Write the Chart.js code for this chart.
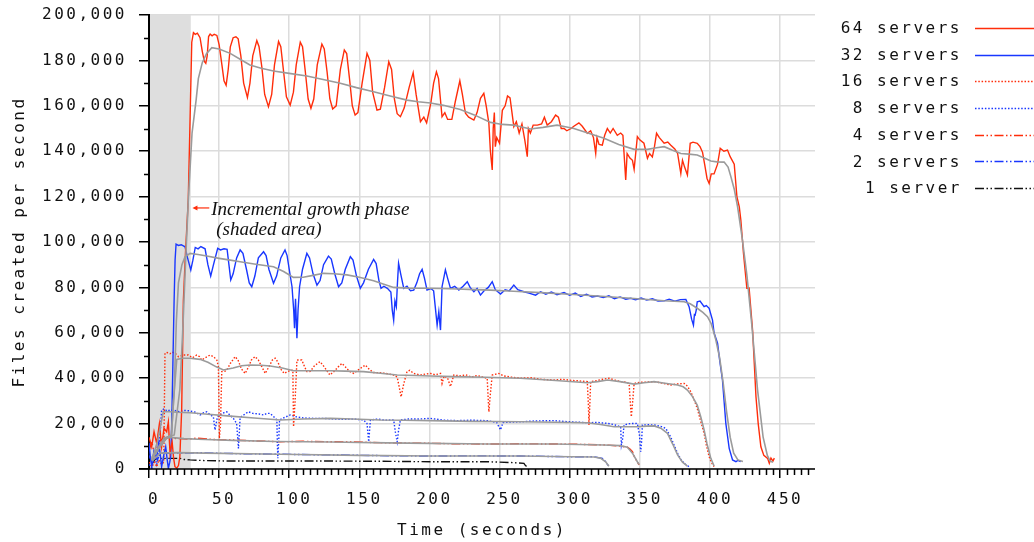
<!DOCTYPE html>
<html>
<head>
<meta charset="utf-8">
<script src="https://cdn.jsdelivr.net/npm/chart.js@4.4.1/dist/chart.umd.min.js"></script>
<style>
  body { margin: 0; background: #fff; }
  #wrap { width: 1034px; height: 542px; }
</style>
</head>
<body>
<div id="wrap"><canvas id="chart"></canvas></div>
<script>
// [seconds, thousands of files/s]
const files64k = [[0,14],[1.9,9.8],[3.6,16.4],[5.5,11.3],[7.4,19.8],[9,9.8],[10.7,17.9],[12.6,16.4],[13.8,20.8],[15,6.9],[16.5,12],[17.5,5],[18.5,1],[19.8,0.4],[21,1.5],[22,5.4],[23.3,26],[24.5,74],[26,95],[28,118.5],[29.5,160],[30.5,188],[31.7,192.2],[33,191.5],[34.5,192],[36.4,190],[38,184],[39.5,179.5],[40.5,178.7],[41.5,182],[42.5,190.5],[43.6,191.6],[45,190.8],[46.5,191.5],[48.4,191],[50,187],[52,178],[53.5,171],[55,169],[56.5,176],[58,186],[60,190],[62,190.4],[63.6,189.5],[65.5,182],[67.5,170],[70.2,163.7],[72,170],[74,182],[76.9,188.7],[78.5,186],[80.5,177],[82.5,165],[85.2,159.6],[87.5,165],[89.5,178],[92.4,188.3],[94,186],[96,175],[98,164],[100.7,160.3],[103,166],[105,178],[107.9,188],[109.5,186],[111.5,175],[113.5,163],[115.5,158.9],[117.5,163],[120,178],[123.3,187.2],[125,185],[127,175],[129,163],[131,158.6],[133.5,160],[136.5,176],[139.3,184.6],[141,183],[143,172],[145,160],[147,155.9],[149,157],[152,170],[155.5,183.1],[157.5,180],[159.5,166],[162.6,158.1],[165,158.5],[168,168],[171,179.4],[173,176],[175,163],[177,156.5],[179.3,155.2],[182,159],[185.5,168],[188.4,174.6],[190.5,165],[193.6,153],[196,155],[198,152.5],[201,161.2],[203,170],[205,175],[206.5,172],[209,155.2],[211,157],[213,154],[216,154],[218.5,162],[221.7,171],[223.5,165],[225.7,156.7],[228,155],[231.7,153.7],[234,157],[236.4,163.3],[238.8,165.5],[240.5,160],[242.4,152.3],[243.5,140],[244.8,131.7],[245.5,150],[246.3,157],[247,142],[248,146],[250,143.5],[252,158],[254,160],[255.7,164.3],[257.5,163.5],[260.2,150.8],[262,153],[264,148],[266,152],[268,145],[269.8,137.6],[270.6,150],[272,148],[274,151.5],[277,151.5],[280,152],[282,155],[284,151.5],[287,153],[290,155.9],[292,155],[294,150],[296,150],[298,149],[301,150],[303,151],[306.6,152.5],[309,151],[312.6,147.9],[315,149],[317,146],[318.6,139],[319.5,146],[321,143],[323.3,142.7],[325,147],[326.9,150],[329,148],[331,150],[334,147],[336.4,148],[338,147],[340,127.3],[341,139],[343,137],[344.8,136],[346,132],[348.3,146.4],[350,145],[353,143.5],[355.5,136.9],[357,139],[359,137.5],[360.5,142],[362,147.9],[364,146],[367.4,143.5],[370,144],[372,142.7],[375,141],[377,139],[379.3,130.2],[380.5,136],[382,133],[384,129.5],[386,143.5],[388,144],[391,143.5],[393,142],[394.8,139.5],[396.4,133.9],[398,128],[399.5,125.8],[401,130],[403,130],[405.5,134.3],[407.4,141.3],[410,140],[412.6,140.5],[414.5,137.6],[417.4,134.3],[419.3,120],[421,115.5],[422.1,109.7],[424,95],[426.4,79.6],[428,79.7],[430.5,61],[432.9,31.8],[434.5,20],[436.4,9.8],[438.5,6],[441.2,4.7],[442.4,2.5],[443.6,4.8],[445,3.5],[446,4.8]];
const trend64k = [[2,5],[8,10],[13,14],[18,15],[22,35],[24,60],[26,90],[28,118],[30.7,148],[33.6,162.5],[35.2,172],[38,179],[41,183],[44.8,185.6],[50,185],[57.9,183.1],[65,180.5],[72,178],[80,176.5],[88.8,175.3],[100,174.3],[112.6,173.1],[125,171.5],[136.4,169.9],[148,168],[160.2,166.2],[172,164.3],[184,162.5],[192,161.8],[200.7,161.2],[210,160.2],[222,158.4],[232,156],[243.6,152.7],[252,151.8],[260,151.5],[266,150.7],[272,149.8],[281,150.5],[291,151.5],[297,150.8],[303,150],[313,148],[324.5,145.7],[335,143],[346,140.8],[355.5,140.8],[362,141.5],[367.4,142],[373,140.5],[379.3,139],[385,138.7],[391,138.3],[396,137],[400.7,135.7],[405,135.3],[410.2,135.2],[413,133],[415,128.8],[417.5,123],[419.8,115.5],[423,102],[426.5,85],[430,63],[434,35],[438,14],[441,6],[443,3.5],[445,3]];

const files32k = [[0,11.5],[1,5],[2,1],[3.5,8],[5.5,5],[7,12],[9,1],[10.5,6],[11.9,9.8],[13,4],[13.8,0.3],[14.8,3],[15.5,5.4],[16.2,20],[17,45],[17.9,74],[18.6,92],[19.3,99.1],[21,98.5],[23,98.8],[25.7,97.9],[27.5,93],[29.8,87.7],[31.3,92],[33,97.6],[35,97],[37,98],[40,97],[42,90],[44,85],[46,90],[49,97.2],[51,96.5],[53.5,97],[55.7,96.8],[57,90],[58.3,83.3],[60,86],[62.5,93],[65,96.5],[67,95],[69.5,88],[71.5,82],[73.3,80.3],[75.5,85],[78,93],[81.7,95.7],[83.5,94],[85.5,88],[88.8,81.8],[91,85],[94,93],[97,96.5],[98.5,94],[100,88],[102,80.3],[103.2,70],[103.8,62],[104.5,75],[105.5,57.6],[106.3,70],[107.4,80.3],[109.5,88],[112.6,95],[114.5,93],[117,86],[119.8,81],[122,83],[124.5,90],[128,93.8],[130,92.5],[132.5,86],[135.2,80.3],[137.5,82],[140,88],[143.6,93.5],[145.5,92],[148,85],[150.7,79.6],[153,82],[156.5,88],[160.2,92.3],[162,90.5],[164,83],[165.5,79.6],[167.5,80.5],[170,79.6],[172.5,78],[173.5,70],[174.5,65.6],[175.4,74],[176.4,71.5],[177.2,82],[178,90.6],[179.5,86],[181.7,79.6],[184,80.5],[186.5,78.5],[188.8,78.8],[191,82],[193,86],[194.8,88],[196.5,84],[198.3,78.8],[201,79.5],[203,78.5],[205.5,63.4],[206.7,69.3],[207.9,61.2],[209,80.3],[211.4,87.7],[213,84],[215,79.6],[218,80.5],[221,78.8],[224,80.5],[227,82.5],[229,80],[231.7,78.1],[234,79.5],[236.4,76.6],[239,78.5],[242,80],[244.8,82.5],[247,79],[250.7,77.1],[254,79],[257,78.5],[260.2,81],[263,79],[267.4,78.1],[271,77.5],[275.7,76.6],[279.3,78.1],[283,77],[287,78],[291,76.8],[296,77.7],[300,76.5],[304,77.5],[308,76],[312,77],[316,75.8],[319.8,76.2],[324,75.5],[328,76.3],[332,75],[336,75.8],[340,74.8],[343.6,75.2],[347,74.5],[351,75.3],[355,74.4],[359,75],[363,74],[367.4,74.1],[371,74.8],[375,73.9],[379,74.6],[382.9,74.7],[385.2,71.5],[387,66],[388.3,63.4],[389,68],[389.5,67.8],[390.3,70],[391,73.7],[393,74],[395.9,71.5],[397.5,72],[399.5,70.8],[401.9,65.6],[403,60],[405.5,55.4],[407,48],[409,39.2],[411.4,20.1],[413.8,9.1],[416.2,4],[418.6,3.2],[420,3.8],[422,3.2]];
const trend32k = [[2,5],[8,10],[13,14],[16,15],[18,35],[19.5,65],[21,82],[23.5,90],[25.7,93.5],[29.3,95],[35,94.5],[41.2,93.8],[50,92.8],[58,92],[65,91.3],[75,90.3],[88.8,89.1],[96,87],[103,84.4],[110,84.5],[117,85.3],[124.5,86.2],[132,86],[141.2,85.5],[150,84.5],[160.2,82.9],[167,81.5],[174.5,80],[185,79.7],[196,79.6],[208,79.5],[219.8,79.3],[232,79],[243.6,78.8],[260,78.3],[279.3,77.7],[300,77],[319.8,76.2],[343.6,75.2],[367.4,74.1],[381.7,73.7],[386,72.8],[391,70.8],[395,69],[398.3,67.1],[401,64],[403,59.8],[404.3,56.8],[407,49],[409.5,38],[412,25],[414.5,14],[417,7],[420,4],[423.6,3.3]];

const files16k = [[0,3],[2,1],[4,3],[5.5,1],[7,4],[9,2],[10.5,3],[11.4,51],[13,51.3],[15,50.8],[16.5,51.5],[18.6,51],[21,49.5],[24.5,50.2],[28,50.2],[31,49],[34,50.2],[36,49.5],[37.6,48],[40,49],[43.6,50.2],[46,49.5],[48.4,48],[49.5,45],[50.2,13.5],[51,20],[51.9,42.9],[54,43],[55.5,43.6],[58,46.5],[61.4,49.5],[63.5,48],[66,44],[68.6,42.1],[71,45],[73,48],[75.7,49.5],[78,48],[80.5,45],[82.9,42.1],[85.5,45],[88,48],[90,48.8],[92,47],[94,44],[96.4,42.1],[99,43],[102.6,43.6],[103.1,18.6],[104.2,30],[105.5,48],[109,48],[111,45],[112.6,42.9],[115,43],[118,45.5],[122,47.3],[125,45],[129,41.4],[132,43],[135,45],[137.6,46.5],[140,45],[143,43],[146,42.1],[150,44],[154.3,45.8],[157,44],[160,42.5],[165,42.4],[170,42],[174.5,41.4],[177,40.5],[178.5,36],[179.8,31.8],[181.5,37],[184,42.9],[186,43.5],[188.8,42.1],[193.6,41.4],[197,41.8],[200.7,42.1],[204,41.5],[207.9,42.1],[209,37.7],[210.5,41],[213,40],[215,36.3],[217.4,41.4],[222,41],[226,41.5],[230,40.5],[234,41.2],[238,40.5],[241.2,40],[242,30],[242.4,25.2],[243.3,32],[244.8,41.4],[249.5,42.1],[253,41],[258,40.5],[265,40],[272,40.2],[280,39.5],[288.8,39.2],[295,39.5],[302,39],[307,38.8],[312.6,38.5],[313.4,28],[313.8,19.4],[314.5,30],[315,38.5],[320,39],[324,39.6],[328,40],[332,39.2],[336.4,38.5],[340,38.2],[342.4,37.7],[343.2,30],[344,23],[345,30],[346,37.7],[350,38.2],[355,38.3],[360.2,38.5],[365,38],[372,37],[377,37.5],[381.7,37.7],[384,36.5],[386.4,34],[388.5,31],[391,26.7],[393.5,21],[395.9,15.7],[397.5,10.5],[399.5,5.4],[401,3],[403,1]];
const trend16k = [[2,4],[8,10],[13,14],[16,14.5],[17.5,30],[19.8,48.3],[24,48.8],[29.3,48.8],[36.4,48.3],[42,47],[48,45],[53.1,43.6],[60,44.5],[66,45.5],[72.1,45.8],[80,45.7],[86.4,45.4],[95,44.5],[103.1,43.3],[115,43.3],[129.3,43.3],[140,43.1],[153,42.9],[165,42.2],[177,41.4],[190,41.2],[200.7,41],[217.4,40.7],[240,40.4],[265,40],[290,39],[312.6,38],[320,38.5],[327,39.2],[336,38.5],[346,37.4],[353,38],[360.2,38.5],[368,37.8],[377,37],[381,36.2],[384,34.8],[387.5,32],[391,28.2],[393.5,23],[395.9,17.2],[398,11],[400.7,4.7],[403,1.3]];

const files8k = [[0,2],[2,0.5],[4,6],[5.5,2],[6.7,5],[8,16],[9,26],[11,26.5],[13,25.5],[15,26],[18,25.8],[22.1,25.2],[25,25.8],[29.3,25.6],[33,25],[36.4,23.8],[39,24.8],[41.2,25.2],[43.5,24],[45.9,23],[47.1,17.2],[48.8,23],[52,24.5],[55.5,25.2],[58,23.5],[60.2,22.3],[62.5,20],[63.8,9.1],[65,22.7],[68,24],[70.9,25.2],[74,24.5],[78,24.3],[81.7,23.8],[84,24.5],[86.4,24.5],[89,23],[91.2,21.6],[91.6,10],[91.9,4.7],[92.5,12],[93.1,21.6],[96,22.5],[100.7,23.8],[105,23],[110,22.5],[117.4,22.3],[125,22.3],[132,22],[138.8,21.9],[146,22],[153.1,21.6],[155.5,20],[156.7,12],[157.9,21.6],[163,22],[168,21.5],[174.5,21.6],[175.8,16],[177,12],[178,17],[179.3,21.6],[185,22],[192,22],[200.7,22.3],[210,21.5],[220,21.3],[230,21.5],[241.2,21.3],[248,20.5],[250.7,17.2],[252.5,20.5],[265,20.8],[277,21.2],[288.8,21.3],[300,20.8],[312.6,20.4],[320,20.5],[327,20.1],[332,19.5],[336.4,18.6],[336.9,10.6],[338,14],[338.8,19.4],[343,20],[348.3,20.1],[349.8,15],[350.7,7.6],[351.3,12],[351.9,19.4],[356,19.5],[360.2,19.4],[365,18.8],[368.6,17.9],[372,14.2],[374.5,10.5],[377,6.9],[379.5,4],[381.7,2.5],[385.2,1]];
const trend8k = [[2,4],[6,12],[10.2,25.2],[15,25.2],[20,25],[29.3,24.8],[40,24.2],[57.9,23.3],[75,22.5],[93.6,21.6],[110,22],[129.3,22.3],[145,22],[165,21.6],[182,21.5],[200.7,21.3],[230,21],[265,20.8],[290,20.6],[312.6,20.4],[322,19.6],[331.7,18.6],[340,18.6],[348.3,18.6],[355,18.9],[360.2,19],[365,18],[369.8,15.7],[373.5,11],[377,6.2],[380.5,3],[384,1.3]];

const files4k = [[0,8],[2,12],[4,6],[6,10],[8,12.5],[10,13.5],[14,13.8],[20,13.4],[28,13.2],[34,13.6],[45,13],[58,12.8],[75,12.4],[93.6,12],[110,12.2],[129.3,12],[145,11.9],[165,11.6],[185,11.4],[200.7,11.3],[220,11.1],[241.2,11],[265,11.1],[288.8,11],[305,10.9],[324.5,10.6],[335,10.2],[341.2,9.6],[343,8.8],[344.8,7.6],[346.5,5],[348.3,3.2],[349.5,1.8]];
const trend4k = [[2,4],[6,9],[11,13.8],[17,13.8],[25,13.4],[40,13],[60,12.6],[90,12.1],[130,11.9],[170,11.5],[200.7,11.3],[241,11],[289,11],[324.5,10.6],[336,10.3],[341.2,9.6],[344.8,7],[348.3,3.2],[349.5,2]];

const files2k = [[0,6],[2,3],[4,7.5],[6,4],[8,7],[10,6.9],[20,7],[34,7.2],[50,6.9],[70,6.7],[93.6,6.5],[130,6.2],[165,5.9],[200.7,5.7],[230,5.8],[265,5.7],[300.7,5.4],[317.4,5.4],[323.3,4.7],[325.7,3.2],[328,1]];
const trend2k = [[2,3.5],[8,7],[20,7.2],[40,7],[93.6,6.5],[150,6],[200.7,5.7],[265,5.7],[300.7,5.4],[317.4,5.3],[322,4.8],[325.7,3.2],[328,1.2]];

const files1k = [[2,2],[4,4],[5.5,4.7],[10.2,4.7],[22,4.7],[25,4.2],[29.3,4],[40,3.7],[58,3.5],[100,3.5],[129,3.5],[165,3.4],[200.7,3.2],[241.2,3.2],[260.2,2.8],[267.4,2.5],[268.5,1.5],[269.8,1]];

const seriesLabels = ['64 servers', '32 servers', '16 servers', '8 servers', '4 servers', '2 servers', '1 server'];
const growthPhaseEnd = 29.8;
const xTicks = [0, 50, 100, 150, 200, 250, 300, 350, 400, 450];

const RED = 'rgb(255,45,10)';
const BLUE = 'rgb(25,55,255)';
const GRAY = 'rgb(155,155,155)';
const DOT = [1.5, 1.8];
const DASHDOTDOT = [9, 2.5, 1.5, 2.5, 1.5, 2.5];
const MONO = "'DejaVu Sans Mono', monospace";

const styles = [
    { color: RED, dash: [] },
    { color: BLUE, dash: [] },
    { color: RED, dash: DOT },
    { color: BLUE, dash: DOT },
    { color: RED, dash: DASHDOTDOT },
    { color: BLUE, dash: DASHDOTDOT },
    { color: '#111', dash: DASHDOTDOT }
];

function toPoints(pairs) {
    return pairs.map(p => ({ x: p[0], y: p[1] * 1000 }));
}

function lineSet(label, pairs, color, dash, width, order) {
    return {
        label: label,
        data: toPoints(pairs),
        borderColor: color,
        borderDash: dash,
        borderWidth: width,
        pointRadius: 0,
        tension: 0,
        fill: false,
        order: order
    };
}

const measured = [files64k, files32k, files16k, files8k, files4k, files2k, files1k];
const trends = [trend64k, trend32k, trend16k, trend8k, trend4k, trend2k];

const datasets = [];
trends.forEach((t, i) => datasets.push(lineSet('trend ' + seriesLabels[i], t, GRAY, [], 1.6, 0)));
measured.forEach((m, i) => datasets.push(lineSet(seriesLabels[i], m, styles[i].color, styles[i].dash, 1.4, 1)));

const spacing = {
    id: 'spacing',
    beforeUpdate(chart) { chart.ctx.letterSpacing = '2.5px'; },
    beforeDraw(chart) { chart.ctx.letterSpacing = '2.5px'; }
};

const shade = {
    id: 'shade',
    beforeDatasetsDraw(chart) {
        const { ctx, chartArea, scales } = chart;
        const x1 = scales.x.getPixelForValue(growthPhaseEnd);
        ctx.save();
        ctx.fillStyle = '#dedede';
        ctx.fillRect(chartArea.left + 1, chartArea.top, x1 - chartArea.left - 1, chartArea.bottom - chartArea.top - 1);
        ctx.restore();
    }
};

const axesExtra = {
    id: 'axesExtra',
    afterDraw(chart) {
        const { ctx, chartArea, scales } = chart;
        ctx.save();
        ctx.strokeStyle = '#000';
        ctx.lineWidth = 1.5;
        ctx.beginPath();
        ctx.moveTo(chartArea.left - 10, chartArea.bottom);
        ctx.lineTo(chartArea.right, chartArea.bottom);
        for (let t = 5; t < 475; t += 5) {
            if (t % 50 === 0) continue;
            const px = Math.round(scales.x.getPixelForValue(t)) + 0.5;
            ctx.moveTo(px, chartArea.bottom);
            ctx.lineTo(px, chartArea.bottom + 6);
        }
        for (let v = 10000; v < 200000; v += 20000) {
            const py = Math.round(scales.y.getPixelForValue(v)) + 0.5;
            ctx.moveTo(chartArea.left, py);
            ctx.lineTo(chartArea.left - 5, py);
        }
        ctx.stroke();
        ctx.restore();
    }
};

const sideLegend = {
    id: 'sideLegend',
    afterDraw(chart) {
        const ctx = chart.ctx;
        ctx.save();
        ctx.font = '16px ' + MONO;
        ctx.letterSpacing = '2.5px';
        ctx.textAlign = 'right';
        ctx.textBaseline = 'middle';
        ctx.fillStyle = '#111';
        seriesLabels.forEach((label, i) => {
            const y = 29 + i * 26.67;
            ctx.fillText(label, 962, y);
            ctx.strokeStyle = styles[i].color;
            ctx.lineWidth = 1.5;
            ctx.setLineDash(styles[i].dash);
            ctx.beginPath();
            ctx.moveTo(975, Math.round(y) - 0.5);
            ctx.lineTo(1034, Math.round(y) - 0.5);
            ctx.stroke();
        });
        ctx.restore();
    }
};

const note = {
    id: 'note',
    afterDatasetsDraw(chart) {
        const { ctx, scales } = chart;
        const tipX = scales.x.getPixelForValue(31);
        const tailX = scales.x.getPixelForValue(43);
        const y = scales.y.getPixelForValue(115000);
        ctx.save();
        ctx.letterSpacing = '0px';
        ctx.strokeStyle = RED;
        ctx.fillStyle = RED;
        ctx.lineWidth = 1.2;
        ctx.beginPath();
        ctx.moveTo(tipX + 3, y);
        ctx.lineTo(tailX, y);
        ctx.stroke();
        ctx.beginPath();
        ctx.moveTo(tipX, y);
        ctx.lineTo(tipX + 5, y - 2.5);
        ctx.lineTo(tipX + 5, y + 2.5);
        ctx.closePath();
        ctx.fill();
        ctx.fillStyle = '#111';
        ctx.font = "italic 19px 'Liberation Serif', serif";
        ctx.textAlign = 'left';
        ctx.textBaseline = 'alphabetic';
        ctx.fillText('Incremental growth phase', tailX + 2, y + 7);
        ctx.fillText('(shaded area)', tailX + 7, y + 27);
        ctx.restore();
    }
};

const chart = new Chart(document.getElementById('chart').getContext('2d'), {
    type: 'line',
    data: { datasets: datasets },
    options: {
        responsive: true,
        maintainAspectRatio: false,
        animation: false,
        events: [],
        layout: { padding: { left: 0, top: 15, right: 219, bottom: 0 } },
        plugins: { legend: { display: false }, tooltip: { enabled: false } },
        scales: {
            x: {
                type: 'linear',
                min: 0,
                max: 475,
                afterBuildTicks: scale => { scale.ticks = xTicks.map(v => ({ value: v })); },
                afterFit: scale => {
                    scale.height = 73;
                    scale.paddingLeft = 0;
                    scale.paddingRight = 0;
                },
                ticks: { color: '#111', font: { family: MONO, size: 16 }, padding: 12, maxRotation: 0, labelOffset: 5 },
                grid: { color: '#dcdcdc', lineWidth: 1.5, tickColor: '#000', tickLength: 9, tickWidth: 1.5 },
                border: { display: false },
                title: { display: true, text: 'Time (seconds)', color: '#111', font: { family: MONO, size: 16 }, padding: { top: 0, bottom: 2 } }
            },
            y: {
                min: 0,
                max: 200000,
                afterFit: scale => {
                    scale.width = 149;
                    scale.paddingTop = 0;
                    scale.paddingBottom = 0;
                },
                ticks: {
                    stepSize: 20000,
                    color: '#111',
                    font: { family: MONO, size: 16 },
                    padding: 12,
                    callback: v => v.toLocaleString('en-US')
                },
                grid: { color: '#dcdcdc', lineWidth: 1.5, tickColor: '#000', tickLength: 10, tickWidth: 1.5 },
                border: { display: true, color: '#000', width: 2 },
                title: { display: true, text: 'Files created per second', color: '#111', font: { family: MONO, size: 16 }, padding: { top: 10, bottom: 0 } }
            }
        }
    },
    plugins: [spacing, shade, axesExtra, sideLegend, note]
});
</script>
</body>
</html>
